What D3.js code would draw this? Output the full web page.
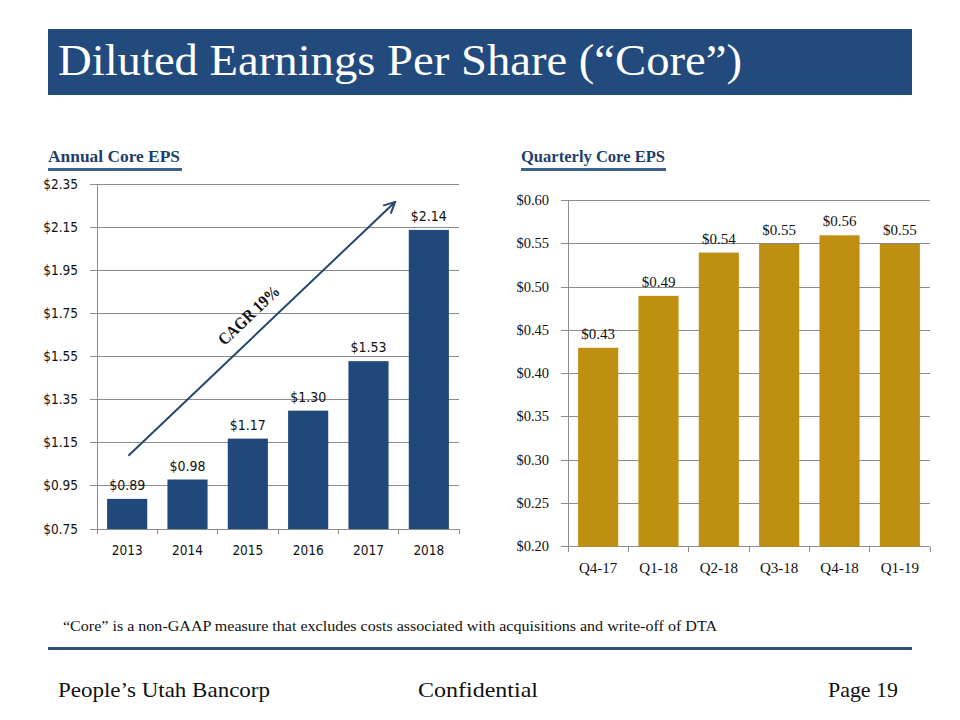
<!DOCTYPE html>
<html><head><meta charset="utf-8">
<script src="https://cdn.jsdelivr.net/npm/d3@7"></script>
<style>body{margin:0;background:#fff}svg{display:block}</style>
</head><body>
<script>
// ---- data ----
const annualYears = ["2013","2014","2015","2016","2017","2018"];
const annualEPS = [0.89, 0.98, 1.17, 1.30, 1.53, 2.14];
const annualTicks = [0.75, 0.95, 1.15, 1.35, 1.55, 1.75, 1.95, 2.15, 2.35];
const quarters = ["Q4-17","Q1-18","Q2-18","Q3-18","Q4-18","Q1-19"];
const quarterlyEPS = [0.43, 0.49, 0.54, 0.55, 0.56, 0.55];
const quarterlyTicks = [0.20, 0.25, 0.30, 0.35, 0.40, 0.45, 0.50, 0.55, 0.60];
// trend arrow in (category index, value) terms
const trendFrom = [0.02, 1.09];
const trendTo = [4.44, 2.27];
const trendLabel = "CAGR 19%";

const W = 960, H = 720;
const serif = "'Liberation Serif','DejaVu Serif',serif";
const sans = "'DejaVu Sans Condensed','Liberation Sans',sans-serif";
const svg = d3.select("body").append("svg").attr("width", W).attr("height", H);

function fitText(sel, len){ return sel.attr("textLength",len).attr("lengthAdjust","spacingAndGlyphs"); }

// title bar
svg.append("rect").attr("x",48).attr("y",29).attr("width",864).attr("height",66).attr("fill","#224a7c");
fitText(svg.append("text").attr("x",58).attr("y",75).attr("fill","#fff")
  .attr("font-family",serif).attr("font-size",44), 684)
  .text("Diluted Earnings Per Share (“Core”)");

function subtitle(x, w, tw, txt){
  fitText(svg.append("text").attr("x",x).attr("y",162).attr("font-family",serif).attr("font-weight","bold")
    .attr("font-size",16).attr("fill","#1f3f6a"), tw).text(txt);
  svg.append("rect").attr("x",x).attr("y",168).attr("width",w).attr("height",3).attr("fill","#3b618d");
}
subtitle(48, 134, 132, "Annual  Core EPS");
subtitle(521, 145, 144, "Quarterly Core EPS");

function barChart(opt){
  const g = svg.append("g");
  const x = d3.scaleBand().domain(opt.cats).range([opt.x0, opt.x1]).paddingInner(0.335).paddingOuter(0.1675);
  const y = d3.scaleLinear().domain(opt.domain).range([opt.yb, opt.yt]);
  g.selectAll("line.grid").data(opt.ticks).join("line")
    .attr("x1", opt.x0-7).attr("x2", opt.x1).attr("y1", d=>y(d)).attr("y2", d=>y(d))
    .attr("stroke","#8c8c8c").attr("stroke-width",1).attr("shape-rendering","crispEdges");
  g.selectAll("text.yt").data(opt.ticks).join("text")
    .attr("x", opt.labelX).attr("y", d=>y(d)+4.5).attr("text-anchor","end")
    .attr("font-family", opt.axisFont).attr("font-size", opt.axisSize).attr("fill","#111")
    .text(d=>"$"+d.toFixed(2));
  g.selectAll("rect.bar").data(opt.vals).join("rect")
    .attr("x",(d,i)=>x(opt.cats[i])).attr("width",x.bandwidth())
    .attr("y",d=>y(d)).attr("height",d=>y(opt.domain[0])-y(d)).attr("fill",opt.color);
  g.append("line").attr("x1",opt.x0).attr("x2",opt.x0).attr("y1",opt.yt).attr("y2",opt.yb+5)
    .attr("stroke","#8c8c8c").attr("shape-rendering","crispEdges");
  const step = x.step();
  d3.range(opt.cats.length+1).forEach(i=>{
    g.append("line").attr("x1",opt.x0+i*step).attr("x2",opt.x0+i*step).attr("y1",opt.yb).attr("y2",opt.yb+5)
      .attr("stroke","#8c8c8c").attr("shape-rendering","crispEdges");
  });
  g.selectAll("text.dl").data(opt.vals).join("text")
    .attr("x",(d,i)=>x(opt.cats[i])+x.bandwidth()/2).attr("y",d=>y(d)-opt.dlGap)
    .attr("text-anchor","middle").attr("font-family",opt.dlFont).attr("font-size",opt.dlSize).attr("fill","#111")
    .text(d=>"$"+d.toFixed(2));
  g.selectAll("text.cl").data(opt.cats).join("text")
    .attr("x",d=>x(d)+x.bandwidth()/2).attr("y",opt.yb+opt.catGap)
    .attr("text-anchor","middle").attr("font-family",opt.catFont).attr("font-size",opt.catSize).attr("fill","#111")
    .text(d=>d);
  return {x, y, step};
}

const left = barChart({cats:annualYears, vals:annualEPS, ticks:annualTicks, domain:[0.75,2.35],
  x0:97, x1:459, yb:529, yt:184.7, color:"#21487a", labelX:78, axisFont:sans, axisSize:13.5,
  dlFont:sans, dlSize:14, dlGap:9, catFont:sans, catSize:13.5, catGap:26});

const right = barChart({cats:quarters, vals:quarterlyEPS, ticks:quarterlyTicks, domain:[0.20,0.60],
  x0:568, x1:930, yb:546.7, yt:200.7, color:"#bf8f12", labelX:549, axisFont:serif, axisSize:14.5,
  dlFont:serif, dlSize:15, dlGap:9, catFont:serif, catSize:15, catGap:26});

// trend arrow
const ax = i => 97 + left.step*(0.1675 + i + (1-0.335)/2);
const p0 = [ax(trendFrom[0]), left.y(trendFrom[1])];
const p1 = [ax(trendTo[0]), left.y(trendTo[1])];
svg.append("defs").append("marker").attr("id","ah").attr("viewBox","0 0 10 10").attr("refX",9).attr("refY",5)
  .attr("markerWidth",7).attr("markerHeight",7).attr("orient","auto")
  .append("path").attr("d","M1,1 L9,5 L1,9").attr("fill","none").attr("stroke","#24476f").attr("stroke-width",1.4);
svg.append("line").attr("x1",p0[0]).attr("y1",p0[1]).attr("x2",p1[0]).attr("y2",p1[1])
  .attr("stroke","#24476f").attr("stroke-width",2).attr("marker-end","url(#ah)");
const ang = Math.atan2(p1[1]-p0[1], p1[0]-p0[0])*180/Math.PI;
const mx = p0[0] + (p1[0]-p0[0])*0.5, my = p0[1] + (p1[1]-p0[1])*0.5;
fitText(svg.append("text").attr("transform",`translate(${mx},${my}) rotate(${ang}) translate(0,-13)`)
  .attr("text-anchor","middle").attr("font-family",serif).attr("font-weight","bold").attr("font-size",17)
  .attr("fill","#111"), 78).text(trendLabel);

// footnote
fitText(svg.append("text").attr("x",63).attr("y",631).attr("font-family",serif).attr("font-size",14).attr("fill","#111"), 654)
  .text("“Core” is a non-GAAP measure that excludes costs associated with acquisitions and write-off of DTA");
svg.append("rect").attr("x",48).attr("y",647).attr("width",864).attr("height",3).attr("fill","#2d4f78");

// footer
const ff = sel => sel.attr("font-family",serif).attr("font-size",21).attr("fill","#111").attr("y",697);
fitText(ff(svg.append("text").attr("x",58)), 212).text("People’s Utah Bancorp");
fitText(ff(svg.append("text").attr("x",418)), 120).text("Confidential");
fitText(ff(svg.append("text").attr("x",828)), 70).text("Page 19");
</script>
</body></html>
